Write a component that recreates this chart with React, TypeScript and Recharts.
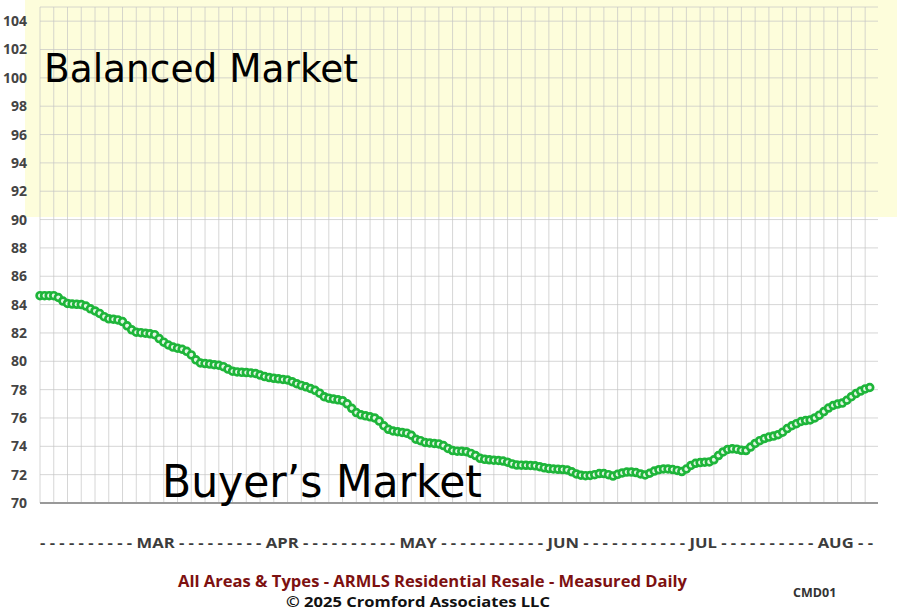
import { LineChart, Line, XAxis, YAxis, CartesianGrid } from "recharts";

// daily market index readings, left to right
const marketIndex = [
  84.63, 84.63, 84.63, 84.63, 84.5, 84.25, 84.08, 84.04, 84.02, 84.0,
  83.9, 83.7, 83.55, 83.38, 83.15, 83.0, 82.97, 82.92, 82.8, 82.5,
  82.22, 82.05, 82.02, 81.98, 81.94, 81.88, 81.6, 81.35, 81.15, 81.0,
  80.92, 80.85, 80.7, 80.45, 80.1, 79.88, 79.84, 79.8, 79.76, 79.72,
  79.62, 79.45, 79.3, 79.25, 79.22, 79.2, 79.18, 79.14, 79.03, 78.92,
  78.85, 78.8, 78.76, 78.72, 78.68, 78.56, 78.42, 78.3, 78.2, 78.08,
  77.95, 77.75, 77.5, 77.4, 77.33, 77.28, 77.22, 77.0, 76.68, 76.38,
  76.22, 76.15, 76.08, 76.0, 75.78, 75.45, 75.2, 75.08, 75.03, 74.98,
  74.93, 74.78, 74.5, 74.4, 74.27, 74.24, 74.2, 74.17, 74.05, 73.85,
  73.7, 73.66, 73.65, 73.62, 73.5, 73.35, 73.15, 73.08, 73.05, 73.02,
  73.0, 72.96, 72.88, 72.76, 72.68, 72.67, 72.66, 72.65, 72.62, 72.56,
  72.48, 72.43, 72.4, 72.38, 72.36, 72.33, 72.2, 72.05, 71.96, 71.93,
  71.94, 72.0, 72.08, 72.08, 72.0, 71.9, 72.02, 72.12, 72.18, 72.18,
  72.15, 72.05, 71.98, 72.1, 72.25, 72.35, 72.4, 72.4, 72.36, 72.3,
  72.22, 72.4, 72.65, 72.8, 72.85, 72.88, 72.9, 73.05, 73.35, 73.6,
  73.78, 73.82, 73.8, 73.72, 73.7, 73.95, 74.2, 74.4, 74.55, 74.65,
  74.72, 74.82, 75.0, 75.25, 75.45, 75.6, 75.75, 75.82, 75.86, 76.0,
  76.2, 76.45, 76.7, 76.88, 76.98, 77.05, 77.25, 77.5, 77.72, 77.9,
  78.05, 78.15,
];

const monthLabels = ["MAR", "APR", "MAY", "JUN", "JUL", "AUG"];
const dashesBefore = [10, 9, 10, 11, 11, 10];
const dashesAfter = 2;

const yTicks = [70, 72, 74, 76, 78, 80, 82, 84, 86, 88, 90, 92, 94, 96, 98, 100, 102, 104];

const X_MAX = 182.8;
const data = marketIndex.map((value, day) => ({ day, value }));
// vertical grid every 3 days
const gridDays = Array.from({ length: 61 }, (_, i) => i * 3);

const monthRow =
  monthLabels.map((m, i) => "- ".repeat(dashesBefore[i]) + m + " ").join("") +
  "- ".repeat(dashesAfter).trim();

const GREEN = "#1eb53a";

const gridX = (props: any) => {
  const off = props && props.offset;
  if (!off || typeof off.left !== "number") return [];
  return gridDays.map((d) => off.left + (d / X_MAX) * off.width);
};

export default function App() {
  return (
    <div style={{ position: "absolute", left: 0, top: 0, width: 897, height: 611, background: "#fff", overflow: "hidden" }}>
      {/* balanced market band (index 90+) sits behind the chart */}
      <div style={{ position: "absolute", left: 25, top: 0, width: 872, height: 217, background: "#fdfddb" }} />

      <div style={{ position: "absolute", left: 0, top: 0 }}>
        <LineChart width={897} height={611} data={data} margin={{ top: 7, right: 19, bottom: 107, left: 0 }}>
          <CartesianGrid stroke="#c4c4c4" strokeOpacity={0.7} verticalCoordinatesGenerator={gridX} />
          <XAxis
            type="number"
            dataKey="day"
            domain={[0, X_MAX]}
            ticks={gridDays}
            interval={0}
            tick={() => <g />}
            tickLine={false}
            height={1}
            axisLine={{ stroke: "#999", strokeWidth: 2 }}
          />
          <YAxis
            type="number"
            domain={[70, 105]}
            ticks={yTicks}
            interval={0}
            width={40}
            axisLine={false}
            tickLine={false}
            tickMargin={7}
            tick={{ fill: "#444", fontSize: 14, fontWeight: 700, fontFamily: "'Open Sans', sans-serif" }}
          />
          <Line
            type="linear"
            dataKey="value"
            stroke={GREEN}
            strokeWidth={3}
            dot={{ r: 3.4, stroke: GREEN, strokeWidth: 2.7, fill: "#e4f6e4" }}
            isAnimationActive={false}
          />
        </LineChart>
      </div>

      <svg width={897} height={611} style={{ position: "absolute", left: 0, top: 0, pointerEvents: "none" }}>
        <text x={44} y={82} fontSize={39} fontFamily="'DejaVu Sans', sans-serif" fill="#000" textLength={314} lengthAdjust="spacingAndGlyphs">
          Balanced Market
        </text>
        <text x={162} y={497} fontSize={44} fontFamily="'DejaVu Sans', sans-serif" fill="#000" textLength={320} lengthAdjust="spacingAndGlyphs">
          Buyer’s Market
        </text>
        <text x={40} y={548} fontSize={15} fontWeight={700} fontFamily="'Open Sans', sans-serif" fill="#3c3c3c" textLength={833} lengthAdjust="spacingAndGlyphs">
          {monthRow}
        </text>
        <text x={178} y={587} fontSize={16} fontWeight={700} fontFamily="'Open Sans', sans-serif" fill="#7d1111" textLength={509} lengthAdjust="spacingAndGlyphs">
          All Areas &amp; Types - ARMLS Residential Resale - Measured Daily
        </text>
        <text x={793} y={597} fontSize={12.5} fontWeight={700} fontFamily="'Open Sans', sans-serif" fill="#333">
          CMD01
        </text>
        <text x={286} y={607} fontSize={15} fontWeight={700} fontFamily="'Open Sans', sans-serif" fill="#111" textLength={264} lengthAdjust="spacingAndGlyphs">
          © 2025 Cromford Associates LLC
        </text>
      </svg>
    </div>
  );
}
